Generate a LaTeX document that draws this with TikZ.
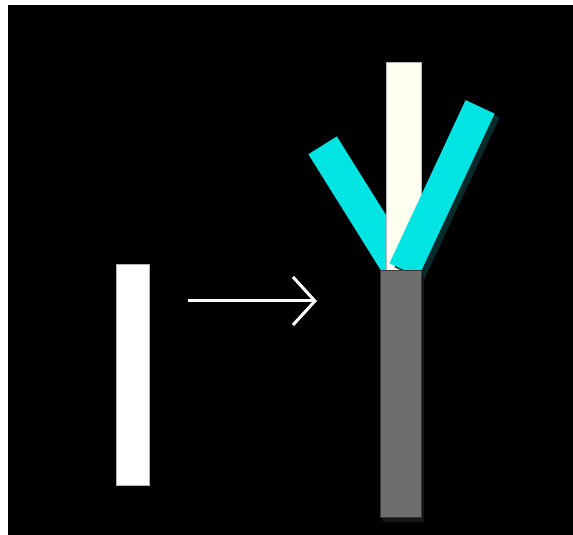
\documentclass[tikz,border=0pt]{standalone}
\usetikzlibrary{arrows.meta}
\definecolor{branchcyan}{RGB}{0,228,228}
\definecolor{ivorybar}{RGB}{255,255,240}
\definecolor{trunkgray}{RGB}{110,110,110}
\definecolor{tealshadow}{RGB}{8,42,42}
\definecolor{darkshadow}{RGB}{22,22,22}
\tikzset{
  barbox/.style={draw=gray!60, line width=0.8pt, fill=white, minimum width=33pt, minimum height=221pt, inner sep=0pt},
  cyanseg/.style={fill=branchcyan},
  arrowline/.style={draw=white, line width=3pt, -{Straight Barb[length=22pt, width=48pt]}}
}
\begin{document}
\begin{tikzpicture}[x=1pt,y=1pt]
\useasboundingbox (0,0) rectangle (573,535);
\fill[white] (0,0) rectangle (573,535);
\fill[black] (8,0) rectangle (573,530);
% left bar
\node[barbox] (bar) at (132.5,160.5) {};
% arrow
\coordinate (arrS) at (188,234);
\coordinate (arrE) at (317,234);
\draw[arrowline] (arrS) -- (arrE);
% left cyan branch
\begin{scope}[shift={(400.5,265)}, rotate=32]
  \fill[cyanseg] (-16.8,0) rectangle (16.8,147);
\end{scope}
% ivory vertical branch
\fill[ivorybar, draw=gray!60, line width=0.6pt] (386,265) rectangle (421,473);
% right cyan branch with shadow
\begin{scope}[shift={(409,261)}, rotate=-25]
  \fill[tealshadow] (-16,0) rectangle (16,180);
\end{scope}
\begin{scope}[shift={(404,265)}, rotate=-25]
  \fill[cyanseg] (-16,0) rectangle (16,180);
\end{scope}
% trunk with shadow
\fill[darkshadow] (383,13) rectangle (424,260);
\fill[trunkgray, draw=gray!45!black, line width=0.6pt] (380,18) rectangle (421,265);
\end{tikzpicture}
\end{document}
